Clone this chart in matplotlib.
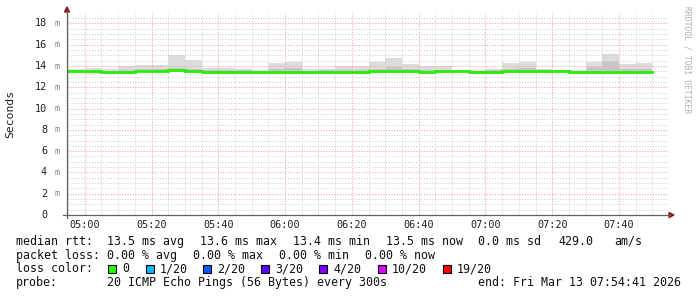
import matplotlib
matplotlib.use('Agg')
import matplotlib.pyplot as plt
import matplotlib.dates as mdates
import numpy as np
import pandas as pd
from matplotlib.lines import Line2D
from matplotlib.patches import Rectangle, Polygon

# ---------------- data (ms) ----------------
bin_start = pd.date_range('2026-03-13 04:55', periods=35, freq='5min')
rtt_max = [13.75, 13.80, 13.75, 14.00, 14.07, 14.07, 15.00, 14.60, 13.80, 13.80,
           13.75, 13.60, 14.30, 14.40, 13.70, 13.75, 14.00, 14.00, 14.40, 14.75,
           14.20, 14.00, 14.00, 13.60, 13.60, 13.75, 14.25, 14.40, 13.70, 13.60,
           13.60, 14.40, 15.10, 14.20, 14.25]
rtt_hi = [13.62, 13.65, 13.55, 13.65, 13.70, 13.70, 13.80, 13.75, 13.60, 13.60,
          13.58, 13.55, 13.75, 13.80, 13.55, 13.58, 13.65, 13.65, 13.75, 13.90,
          13.70, 13.65, 13.62, 13.56, 13.55, 13.58, 13.70, 13.80, 13.58, 13.56,
          13.56, 13.90, 14.50, 13.75, 13.75]
rtt_median = [13.55, 13.50, 13.40, 13.48, 13.50, 13.50, 13.58, 13.55, 13.47, 13.47,
              13.47, 13.47, 13.47, 13.40, 13.43, 13.45, 13.45, 13.40, 13.50, 13.50,
              13.50, 13.45, 13.50, 13.50, 13.45, 13.45, 13.50, 13.50, 13.50, 13.50,
              13.48, 13.48, 13.48, 13.47, 13.45]
rtt_lo = [13.45, 13.40, 13.33, 13.42, 13.43, 13.43, 13.48, 13.42, 13.42, 13.42,
          13.42, 13.42, 13.42, 13.33, 13.35, 13.40, 13.38, 13.33, 13.43, 13.43,
          13.43, 13.40, 13.43, 13.46, 13.38, 13.40, 13.43, 13.43, 13.43, 13.46,
          13.45, 13.38, 13.40, 13.38, 13.40]
rtt_min = [13.30, 13.25, 13.30, 13.38, 13.40, 13.40, 13.40, 13.30, 13.38, 13.38,
           13.38, 13.38, 13.38, 13.28, 13.28, 13.35, 13.30, 13.28, 13.38, 13.38,
           13.38, 13.36, 13.38, 13.42, 13.30, 13.35, 13.38, 13.38, 13.38, 13.42,
           13.42, 13.30, 13.33, 13.30, 13.33]

x_tick_labels = ['05:00', '05:20', '05:40', '06:00', '06:20', '06:40',
                 '07:00', '07:20', '07:40']
y_ticks = [0, 2, 4, 6, 8, 10, 12, 14, 16, 18]

loss_labels = ['0', '1/20', '2/20', '3/20', '4/20', '10/20', '19/20']
loss_colors = ['#26ff00', '#00b8ff', '#0059ff', '#5e00ff', '#7e00ff', '#dd00ff', '#ff0000']

# ---------------- figure ----------------
W, H = 697, 297
fig = plt.figure(figsize=(W / 100, H / 100), dpi=100)
fig.patch.set_facecolor('white')
L, R, B, T = 67, 668, 215, 12.8
ax = fig.add_axes([L / W, 1 - B / H, (R - L) / W, (B - T) / H])
ax.set_facecolor('white')

t0 = pd.Timestamp('2026-03-13 04:54:41')
t1 = t0 + pd.Timedelta(hours=3)
ax.set_xlim(mdates.date2num(t0), mdates.date2num(t1))
ax.set_ylim(0, 19)

edges = mdates.date2num(list(bin_start) + [bin_start[-1] + pd.Timedelta(minutes=5)])

ax.stairs(rtt_max, edges, baseline=rtt_min, fill=True, color='#dcdcdc', lw=0, zorder=1.5)
ax.stairs(rtt_hi, edges, baseline=rtt_lo, fill=True, color='#c6c6c6', lw=0, zorder=1.6)
ax.plot(edges, list(rtt_median) + [rtt_median[-1]], drawstyle='steps-post',
        color='#26ee00', lw=2.0, zorder=3, solid_joinstyle='miter')

# grid
major_x = [pd.Timestamp('2026-03-13 ' + s) for s in x_tick_labels]
minor_x = pd.date_range('2026-03-13 04:55', '2026-03-13 07:50', freq='5min')
ax.set_xticks(mdates.date2num(major_x))
ax.set_xticks(mdates.date2num(list(minor_x)), minor=True)
ax.set_yticks(y_ticks)
ax.set_yticks(np.arange(0.5, 19, 0.5), minor=True)
ax.tick_params(which='both', length=0, labelbottom=False, labelleft=False)
ax.set_axisbelow(False)
ax.grid(which='minor', color='#d4d4d4', lw=0.7, ls=(0, (1.2, 1.6)))
ax.grid(which='major', color='#eeaaaa', lw=0.7, ls=(0, (1.2, 1.6)))
for s in ax.spines.values():
    s.set_visible(False)

def fx(px):
    return px / W

def fy(py):
    return 1 - py / H

# axis lines and arrows
axis_col = '#606060'
arrow_col = '#8b1a1a'
fig.add_artist(Line2D([fx(63), fx(670)], [fy(215), fy(215)], color=axis_col, lw=0.9))
fig.add_artist(Line2D([fx(67), fx(67)], [fy(218), fy(10)], color=axis_col, lw=0.9))
fig.add_artist(Polygon([[fx(64.5), fy(12)], [fx(69.5), fy(12)], [fx(67), fy(7)]],
                       closed=True, color=arrow_col, transform=fig.transFigure))
fig.add_artist(Polygon([[fx(669), fy(212.5)], [fx(669), fy(217.5)], [fx(674), fy(215)]],
                       closed=True, color=arrow_col, transform=fig.transFigure))

mono = 'DejaVu Sans Mono'
# x tick labels
for s, d in zip(x_tick_labels, major_x):
    xd = mdates.date2num(d)
    xpx = L + (xd - mdates.date2num(t0)) / (mdates.date2num(t1) - mdates.date2num(t0)) * (R - L)
    fig.text(fx(xpx), fy(224.5), s, ha='center', va='center', family=mono,
             fontsize=7.3, color='#202020')

# y tick labels
px_per = (B - T) / 19
for v in y_ticks:
    ypx = B - v * px_per
    fig.text(fx(47), fy(ypx), str(v), ha='right', va='center', family=mono,
             fontsize=7.3, color='#202020')
    if v != 0:
        fig.text(fx(57), fy(ypx), 'm', ha='center', va='center', family=mono,
                 fontsize=6, color='#808080')

fig.text(fx(10), fy(114), 'Seconds', rotation=90, ha='center', va='center',
         family=mono, fontsize=8.2, color='#202020')
fig.text(fx(687), fy(60), 'RRDTOOL / TOBI OETIKER', rotation=-90, ha='center',
         va='center', family=mono, fontsize=5.8, color='#b0b0b0')

# legend
fs = 8.4
tc = '#101010'
def t(px, py, s):
    fig.text(fx(px), fy(py), s, ha='left', va='center', family=mono, fontsize=fs, color=tc)

y1, y2, y3, y4 = 241.5, 255.3, 269, 282.8
t(16, y1, 'median rtt:')
t(107, y1, '13.5 ms avg')
t(200, y1, '13.6 ms max')
t(293, y1, '13.4 ms min')
t(386, y1, '13.5 ms now')
t(478, y1, '0.0 ms sd')
t(558, y1, '429.0')
t(614, y1, 'am/s')

t(16, y2, 'packet loss:')
t(107, y2, '0.00 % avg')
t(193, y2, '0.00 % max')
t(279, y2, '0.00 % min')
t(365, y2, '0.00 % now')

t(16, y3, 'loss color:')
box_x = [108, 146, 203, 261, 319, 378, 443]
for bx, lab, c in zip(box_x, loss_labels, loss_colors):
    fig.add_artist(Rectangle((fx(bx), fy(y3 + 4)), 8 / W, 8 / H, facecolor=c,
                             edgecolor='black', lw=0.8, transform=fig.transFigure))
    t(bx + 14, y3, lab)

t(16, y4, 'probe:')
t(107, y4, '20 ICMP Echo Pings (56 Bytes) every 300s')
t(478, y4, 'end: Fri Mar 13 07:54:41 2026')

fig.savefig('out.png', dpi=100, facecolor='white')
